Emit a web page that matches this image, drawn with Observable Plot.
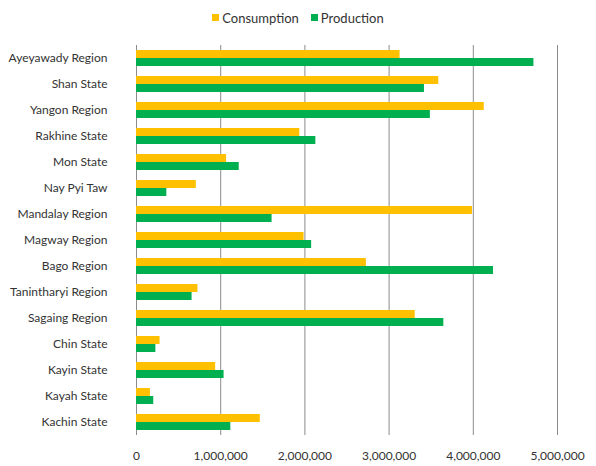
<!DOCTYPE html>
<html>
<head>
<meta charset="utf-8">
<script src="https://cdn.jsdelivr.net/npm/d3@7"></script>
<script src="https://cdn.jsdelivr.net/npm/@observablehq/plot@0.6"></script>
<style>
  html, body { margin: 0; padding: 0; background: #fff; }
  #wrap { position: relative; width: 596px; height: 466px; font-family: Lato, "Open Sans", sans-serif; }
  #legend { position: absolute; top: 8px; left: 0; width: 596px; text-align: center; font-size: 13px; color: #333; }
  #legend span.item { display: inline-flex; align-items: center; margin: 0 6px; }
  #legend span.sw { display: inline-block; width: 7px; height: 7px; margin-right: 3px; }
</style>
</head>
<body>
<div id="wrap"><div id="legend"></div><div id="chart"></div></div>
<script>
const regions = ["Ayeyawady Region","Shan State","Yangon Region","Rakhine State","Mon State","Nay Pyi Taw","Mandalay Region","Magway Region","Bago Region","Tanintharyi Region","Sagaing Region","Chin State","Kayin State","Kayah State","Kachin State"];
const consumption = [3130000,3590000,4130000,1940000,1070000,710000,3990000,1990000,2730000,730000,3310000,280000,940000,165000,1470000];
const production  = [4720000,3420000,3490000,2130000,1220000,360000,1610000,2080000,4240000,660000,3650000,230000,1040000,205000,1120000];
const seriesNames = ["Consumption","Production"];
const seriesColors = ["#FFC000","#00B050"];
const xTicks = [0,1000000,2000000,3000000,4000000,5000000];

const data = [];
regions.forEach((r,i) => {
  data.push({region: r, series: seriesNames[0], value: consumption[i]});
  data.push({region: r, series: seriesNames[1], value: production[i]});
});

const fmt = d3.format(",");
const chart = Plot.plot({
  width: 596,
  height: 466,
  marginLeft: 136,
  marginRight: 39,
  marginTop: 43,
  marginBottom: 29,
  style: {fontFamily: "Lato, 'Open Sans', sans-serif", fontSize: "12px", color: "#333", background: "transparent"},
  x: {domain: [0, 5000000], ticks: xTicks, tickFormat: fmt, tickSize: 0, tickPadding: 16, label: null},
  fy: {domain: regions, padding: 0, label: null, tickSize: 0, tickPadding: 29},
  y: {domain: seriesNames, paddingInner: 0, paddingOuter: 0.55, axis: null},
  color: {domain: seriesNames, range: seriesColors},
  marks: [
    Plot.ruleX(xTicks, {stroke: "#8c8c8c", strokeWidth: 1, strokeOpacity: 1}),
    Plot.barX(data, {fy: "region", y: "series", x: "value", fill: "series"})
  ]
});
document.getElementById("chart").appendChild(chart);

const lg = document.getElementById("legend");
seriesNames.forEach((s,i) => {
  const it = document.createElement("span");
  it.className = "item";
  const sw = document.createElement("span");
  sw.className = "sw";
  sw.style.background = seriesColors[i];
  it.appendChild(sw);
  it.appendChild(document.createTextNode(s));
  lg.appendChild(it);
});
</script>
</body>
</html>
